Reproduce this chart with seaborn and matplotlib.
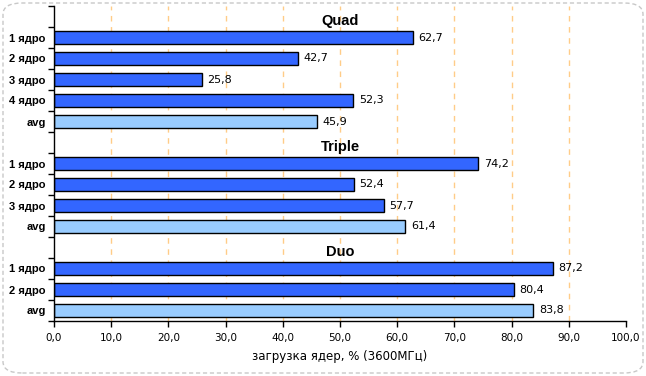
import matplotlib
matplotlib.use("Agg")
import matplotlib.pyplot as plt
import seaborn as sns
import pandas as pd
import numpy as np
from matplotlib.patches import FancyBboxPatch
from matplotlib.ticker import FuncFormatter

groups = ["Quad", "Triple", "Duo"]
quad_labels = ["1 ядро", "2 ядро", "3 ядро", "4 ядро", "avg"]
quad_values = [62.7, 42.7, 25.8, 52.3, 45.9]
triple_labels = ["1 ядро", "2 ядро", "3 ядро", "avg"]
triple_values = [74.2, 52.4, 57.7, 61.4]
duo_labels = ["1 ядро", "2 ядро", "avg"]
duo_values = [87.2, 80.4, 83.8]
x_ticks = [0, 10, 20, 30, 40, 50, 60, 70, 80, 90, 100]
x_label = "загрузка ядер, % (3600МГц)"

rows = []
for g, labs, vals in [("Quad", quad_labels, quad_values),
                      ("Triple", triple_labels, triple_values),
                      ("Duo", duo_labels, duo_values)]:
    rows.append(dict(key=g + "|hdr", label="", value=np.nan, kind="core", group=g, header=True))
    for l, v in zip(labs, vals):
        rows.append(dict(key=g + "|" + l, label=l, value=v,
                         kind="avg" if l == "avg" else "core", group=g, header=False))
df = pd.DataFrame(rows)
order = list(df["key"])

sns.set_theme(style="white")
plt.rcParams['font.family'] = ['DejaVu Sans']
plt.rcParams['text.color'] = 'black'
plt.rcParams['xtick.color'] = 'black'
plt.rcParams['ytick.color'] = 'black'
plt.rcParams['axes.labelcolor'] = 'black'

fig = plt.figure(figsize=(6.46, 3.76), dpi=100)
ax = fig.add_axes([54/646, 1-321/376, (626-54)/646, (321-6)/376])

data = df.dropna(subset=["value"])
sns.barplot(data=data, x="value", y="key", hue="kind", order=order,
            palette={"core": "#3366FF", "avg": "#99CCFF"}, dodge=False, saturation=1,
            width=0.62, edgecolor="black", linewidth=1.0, legend=False, ax=ax)

ax.set_xlim(0, 100)
ax.set_ylim(len(order) - 0.5, -0.5)
ax.set_xticks(x_ticks)
ax.xaxis.set_major_formatter(FuncFormatter(lambda v, p: f"{v:.1f}".replace(".", ",")))
ax.set_yticks(range(len(order)))
ax.set_yticklabels(list(df["label"]), fontweight="bold", fontsize=8, family=["Liberation Sans"])
ax.set_yticks(np.arange(-0.5, len(order), 1.0), minor=True)
ax.tick_params(axis="y", which="major", length=0, pad=6)
ax.tick_params(axis="y", which="minor", length=4, width=1, color="black", direction="out", left=True)
ax.tick_params(axis="x", which="major", length=4, width=1, color="black", direction="out",
               bottom=True, labelsize=7.5, pad=5)
ax.set_xlabel(x_label, fontsize=8.5, labelpad=5)
ax.set_ylabel("")

for x in x_ticks[1:-1]:
    ax.axvline(x, color="#FFCC88", linestyle=(0, (4, 4)), linewidth=1, zorder=0)

for s in ["top", "right"]:
    ax.spines[s].set_visible(False)
for s in ["left", "bottom"]:
    ax.spines[s].set_color("black")
    ax.spines[s].set_linewidth(1)

for i, r in df.iterrows():
    if r["header"]:
        ax.text(50, i + 0.2, r["group"], ha="center", va="center", fontsize=10.5,
                fontweight="bold", family=["Liberation Sans"])
    else:
        ax.annotate(f"{r['value']:.1f}".replace(".", ","), (r["value"], i),
                    xytext=(4, 0), textcoords="offset points", ha="left", va="center", fontsize=8)

border = FancyBboxPatch((3/646, 3/376), 640/646, 370/376,
                        boxstyle="round,pad=0,rounding_size=0.03",
                        transform=fig.transFigure, fill=False, edgecolor="#C8C8C8",
                        linestyle=(0, (3, 2)), linewidth=1)
fig.patches.append(border)

fig.savefig("out.png", dpi=100)
